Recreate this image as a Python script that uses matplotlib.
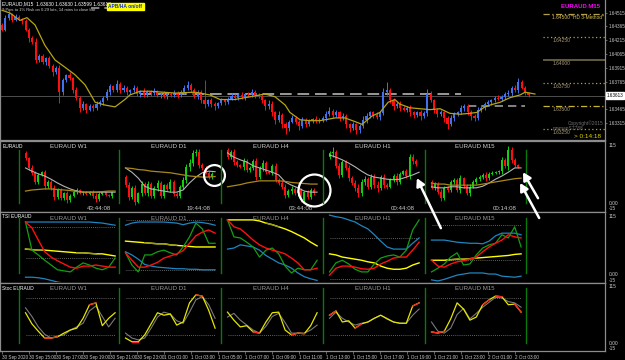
import numpy as np
import matplotlib.pyplot as plt

plt.rcParams['font.family'] = ['Liberation Sans Narrow', 'Liberation Sans', 'DejaVu Sans']

# ---------------- main window: EURAUD M15 (pips above BASE) ----------------
BASE = 1.63000
first_open = 138
close_pips = [133, 146, 150, 143, 147, 145, 142, 133, 124, 120,
              100, 104, 98, 102, 93, 87, 91, 65, 78, 84,
              80, 67, 59, 48, 52, 46, 50, 48, 52, 54,
              59, 65, 72, 67, 74, 67, 70, 65, 67, 70,
              63, 66, 62, 65, 64, 66, 62, 63, 61, 63,
              62, 64, 62, 65, 70, 73, 67, 61, 65, 56,
              52, 56, 52, 50, 53, 56, 54, 58, 61, 59,
              62, 60, 63, 62, 65, 62, 61, 56, 50, 52,
              43, 35, 40, 30, 26, 33, 37, 33, 28, 35,
              30, 34, 36, 34, 35, 37, 41, 45, 40, 43,
              37, 39, 30, 26, 30, 24, 28, 35, 39, 43,
              40, 38, 42, 65, 67, 56, 50, 52, 48, 46,
              48, 43, 40, 43, 39, 42, 63, 56, 46, 41,
              43, 37, 30, 37, 41, 43, 48, 50, 43, 39,
              37, 46, 48, 52, 54, 56, 59, 58, 60, 63,
              64, 70, 67, 76, 70, 64, 62]
upper_wick = [2, 3, 2, 1, 3, 2, 1, 3, 2, 2, 4, 2, 3, 1, 2, 3, 2, 3, 2, 1,
              3, 2, 4, 2, 3, 1, 2, 2, 3, 2, 2, 3, 2, 1, 4, 2, 3, 2, 1, 3,
              2, 1, 3, 2, 2, 3, 1, 2, 3, 2, 2, 3, 2, 2, 3, 4, 2, 3, 2, 2,
              22, 2, 3, 2, 1, 3, 2, 2, 3, 2, 2, 3, 1, 2, 3, 2, 2, 3, 2, 4,
              3, 2, 4, 2, 3, 2, 3, 2, 2, 3, 2, 2, 1, 3, 2, 2, 3, 4, 2, 3,
              2, 3, 2, 2, 3, 2, 2, 4, 3, 2, 2, 3, 2, 4, 9, 2, 3, 2, 3, 2,
              2, 3, 1, 2, 3, 2, 5, 3, 2, 2, 3, 2, 2, 3, 2, 2, 3, 2, 2, 3,
              2, 3, 2, 2, 3, 2, 2, 3, 2, 2, 3, 2, 3, 4, 2, 2, 1]
lower_wick = [2, 2, 3, 2, 1, 2, 3, 2, 4, 3, 3, 2, 2, 3, 2, 4, 2, 12, 3, 2,
              2, 3, 3, 5, 2, 4, 2, 3, 2, 2, 3, 2, 3, 2, 2, 3, 2, 3, 2, 2,
              2, 3, 2, 2, 3, 2, 2, 3, 2, 3, 2, 2, 3, 2, 2, 3, 2, 2, 3, 3,
              4, 2, 3, 4, 2, 2, 3, 2, 2, 3, 2, 2, 3, 2, 2, 3, 2, 3, 4, 3,
              4, 5, 2, 4, 6, 3, 2, 3, 4, 2, 3, 2, 2, 3, 2, 2, 3, 2, 3, 2,
              3, 2, 4, 4, 2, 5, 3, 2, 3, 2, 3, 2, 3, 2, 3, 3, 4, 2, 3, 2,
              3, 4, 3, 2, 4, 2, 3, 2, 4, 3, 2, 4, 5, 2, 3, 2, 2, 3, 3, 4,
              3, 2, 3, 2, 2, 3, 2, 2, 3, 2, 2, 3, 2, 3, 2, 2, 2]
ma_bar = [0, 2.4, 5.3, 7.4, 9.8, 12.7, 15.7, 18.7, 21.6, 24.6, 27.6, 30.5, 33.5, 36.4,
          37.9, 40.9, 43.9, 51.3, 57.2, 61.6, 64.6, 69.0, 73.5, 77.9, 80.9, 83.9, 85.3,
          88.3, 91.3, 94.2, 98.7, 101.6, 104.6, 106.7, 109.6, 112.0, 114.4, 116.4, 117.9,
          120.9, 123.9, 126.8, 129.8, 132.7, 135.7, 138.7, 140.7, 143.1, 144.6, 147.6,
          150.5, 153.5, 155.0, 156.4, 157.9]
ma_pips = [154, 151, 143, 146, 138, 116, 100, 92, 84, 73, 54, 51, 49, 57,
           62, 66, 66, 64, 65, 62, 57, 57, 60, 63, 60, 51, 43,
           35, 34, 34, 37, 37, 33, 30, 39, 43, 54, 57, 52,
           48, 47, 46, 47, 42, 41, 42, 43, 49, 51, 54,
           59, 62, 65, 64, 63]

last_price = 1.63613
session_line = (1.63627, 41, 136)
short_line = (1.63500, 138, 155)
top_line = (1.64565, 26.5, 31)
levels = [1.64500, 1.64250, 1.64000, 1.63750, 1.63500, 1.63250]
level_text = ['1.64500 "HD 3-Method"', '1.64250', '1.64000', '1.63750', '1.63500', '1.63250']
level_style = [(0, (5, 2, 1, 2)), (0, (1, 2)), '-', (0, (1, 2)), (0, (5, 2, 1, 2)), (0, (1, 2))]
level_color = ['#b4a04a', '#b4a04a', '#7d7352', '#b4a04a', '#c8b430', '#b4a04a']
price_ticks = [1.64515, 1.64365, 1.64215, 1.64065, 1.63915, 1.63765, 1.63465, 1.63315]
time_labels = ['30 Sep 2020', '30 Sep 15:00', '30 Sep 17:00', '30 Sep 19:00', '30 Sep 21:00',
               '30 Sep 23:00', '1 Oct 01:00', '1 Oct 03:00', '1 Oct 05:00', '1 Oct 07:00',
               '1 Oct 09:00', '1 Oct 11:00', '1 Oct 13:00', '1 Oct 15:00', '1 Oct 17:00',
               '1 Oct 19:00', '1 Oct 21:00', '1 Oct 23:00', '2 Oct 01:00', '2 Oct 03:00']

# ---------------- multi-timeframe panels (values on the -15..115 window scale) ----------------
panel_names = ['EURAUD W1', 'EURAUD D1', 'EURAUD H4', 'EURAUD H1', 'EURAUD M15']
timers = ['43:44:08', '19:44:08', '03:44:08', '00:44:08', '00:14:08']
mini_open0 = [93, 48, 98, 85, 39]
mini_close = [
    [83, 65, 56, 39, 52, 57, 31, 39, 28, 11, 24, 9, 18, 5, 13, 20, 24, 18, 20, 17, 20, 13, 7, 17, 20, 15, 13, 20],
    [33, 11, 28, 2, 18, 35, 18, 35, 13, 28, 37, 13, 33, 26, 39, 17, 13, 30, 43, 67, 74, 93, 95, 70, 65, 56, 48, 54],
    [85, 95, 76, 70, 67, 78, 61, 65, 78, 48, 65, 74, 57, 56, 69, 43, 37, 30, 15, 22, 26, 18, 24, 5, 20, 11, 24, 18],
    [93, 95, 69, 52, 76, 65, 46, 37, 28, 18, 39, 44, 30, 48, 33, 28, 48, 33, 30, 43, 50, 39, 54, 59, 50, 85, 78, 72],
    [28, 35, 20, 9, 28, 24, 39, 43, 24, 46, 31, 18, 30, 39, 44, 48, 52, 46, 54, 56, 57, 59, 80, 69, 98, 80, 70, 67]]
mini_wick = [
    [4, 3, 5, 3, 4, 2, 5, 3, 4, 6, 3, 4, 3, 5, 3, 2, 3, 2, 3, 2, 3, 4, 5, 3, 2, 3, 2, 3],
    [3, 6, 4, 5, 3, 6, 4, 5, 3, 4, 5, 4, 3, 4, 5, 4, 3, 4, 5, 6, 8, 6, 5, 6, 4, 3, 4, 3],
    [4, 3, 5, 4, 3, 5, 4, 3, 4, 6, 3, 5, 4, 3, 4, 5, 4, 5, 6, 4, 5, 3, 5, 4, 3, 4, 3, 4],
    [3, 8, 4, 5, 3, 4, 5, 4, 6, 7, 5, 6, 4, 5, 6, 8, 4, 5, 4, 3, 4, 5, 4, 3, 4, 5, 6, 3],
    [3, 4, 3, 5, 4, 3, 4, 3, 4, 5, 3, 4, 5, 3, 4, 3, 3, 5, 3, 3, 3, 3, 6, 4, 8, 5, 4, 3]]
ma_fast = [
    [65, 59, 54, 50, 44, 37, 31, 26, 22, 20, 20, 20, 20, 20, 20],
    [65, 57, 46, 31, 26, 24, 22, 20, 20, 24, 37, 48, 56, 59, 58],
    [93, 85, 80, 76, 69, 65, 61, 57, 52, 39, 33, 28, 22, 20, 20],
    [89, 85, 80, 74, 67, 59, 52, 48, 46, 44, 43, 44, 48, 52, 57],
    [30, 28, 28, 30, 30, 28, 28, 28, 31, 37, 44, 50, 57, 65, 65]]
ma_slow = [
    [22, 24, 25, 26, 26, 25, 24, 23, 21, 20, 20, 20, 21, 22, 22],
    [65, 64, 62, 61, 59, 58, 57, 56, 54, 52, 50, 49, 48, 48, 49],
    [30, 32, 34, 37, 39, 41, 41, 41, 41, 40, 38, 37, 36, 35, 35],
    [],
    [37, 35, 35, 33, 33, 33, 33, 33, 35, 37, 39, 41, 43, 45, 46]]

tsi_blue_hi = [
    [98, 98, 98, 98, 98, 98, 98, 98, 98, 98, 98, 97, 96, 94, 92],
    [92, 96, 98, 98, 98, 98, 98, 97, 96, 93, 96, 98, 97, 95, 92],
    [47, 49, 55, 53, 51, 45, 35, 28, 21, 17, 11, 2, -5, -9, -12],
    [111, 108, 106, 102, 98, 91, 85, 74, 62, 51, 47, 47, 47, 58, 68],
    [64, 64, 64, 62, 60, 59, 58, 58, 57, 62, 72, 77, 77, 77, 74]]
tsi_blue_lo = [
    [-6, -6, -7, -9, -12, -15, -17, -19, -20, -21, -22, -23, -24, -25, -26],
    [42, 36, 28, 18, 15, 13, 12, 11, 10, 10, 9, 9, 8, 8, 8],
    [],
    [],
    [-11, -13, -10, -6, -2, 0, 2, 2, 2, 0, 0, -4, -5, -6, -4]]
tsi_red = [
    [98, 87, 64, 42, 32, 25, 19, 13, 11, 15, 15, 17, 15, 13, 13],
    [40, 26, 13, 13, 17, 22, 30, 34, 38, 44, 58, 72, 79, 83, 77],
    [102, 89, 85, 75, 64, 55, 49, 45, 42, 38, 30, 21, 8, 8, 11],
    [-2, 11, 15, 15, 13, 10, 9, 11, 19, 24, 30, 32, 32, 45, 60],
    [26, 15, 13, 19, 23, 25, 28, 32, 42, 51, 58, 64, 74, 70, 68]]
tsi_green = [
    [98, 45, 36, 26, 17, 8, 6, 4, 13, 21, 17, 11, 8, 13, 30],
    [40, 17, 4, 36, 36, 42, 45, 40, 36, 51, 70, 96, 85, 58, 58],
    [102, 70, 68, 60, 51, 32, 45, 49, 38, 15, 2, 11, 8, 8, 26],
    [4, 21, 26, 19, 9, 4, 4, 19, 30, 34, 36, 32, 45, 83, 102],
    [4, 11, 19, 32, 40, 17, 19, 36, 49, 55, 58, 74, 68, 89, 51]]
tsi_yellow = [
    [47, 46, 45, 45, 44, 43, 42, 41, 40, 40, 39, 38, 38, 36, 34],
    [62, 61, 60, 59, 58, 57, 57, 55, 54, 53, 52, 51, 51, 51, 51],
    [102, 102, 102, 102, 102, 100, 96, 93, 89, 85, 80, 74, 68, 60, 53],
    [38, 36, 32, 30, 28, 26, 23, 21, 15, 11, 9, 9, 11, 17, 21],
    [26, 26, 26, 27, 28, 28, 29, 30, 31, 32, 33, 34, 35, 37, 38]]
tsi_dim_spans = [[(0, 3), (8, 11)], [(3, 8)], [(6, 8)], [], [(3, 7)]]
tsi_levels = [[89, 30], [102, 8], [], [68, -9], [92, 26]]

stoch_main = [
    [56, 38, 26, 15, 15, 17, 23, 28, 31, 47, 69, 72, 35, 47, 56],
    [15, 9, 9, 20, 38, 56, 52, 54, 36, 41, 72, 85, 83, 60, 31],
    [57, 44, 33, 35, 25, 23, 41, 56, 57, 28, 20, 23, 22, 35, 56],
    [52, 59, 41, 43, 31, 38, 41, 47, 52, 46, 41, 39, 39, 67, 72],
    [25, 23, 26, 46, 72, 62, 44, 49, 69, 77, 83, 82, 69, 70, 57]]
stoch_signal = [
    [64, 50, 33, 21, 15, 18, 20, 28, 33, 39, 59, 67, 50, 33, 47],
    [23, 15, 12, 15, 31, 49, 57, 54, 43, 39, 57, 77, 82, 69, 47],
    [49, 55, 44, 36, 28, 23, 34, 50, 55, 40, 23, 23, 23, 28, 36],
    [47, 57, 47, 41, 36, 39, 41, 47, 52, 47, 41, 39, 39, 52, 62],
    [41, 26, 23, 31, 53, 63, 46, 55, 65, 73, 81, 80, 74, 72, 65]]
stoch_red_spans = [[(3, 5), (10, 11)], [(1, 2), (11, 12)], [(4, 5), (10, 12)],
                   [(0, 1), (4, 5), (13, 14)], [(0, 2), (8, 9), (10, 11), (13, 14)]]
stoch_levels = [80, 20]

# ---------------- layout helpers ----------------
W, H = 625, 360
fig = plt.figure(figsize=(W / 100, H / 100), dpi=100)
fig.patch.set_facecolor('black')


def box(x0, y0, x1, y1):
    return [x0 / W, 1 - y1 / H, (x1 - x0) / W, (y1 - y0) / H]


XLIM = (-2 / 3.375, 603 / 3.375)
SPINE = '#8c8c8c'
TXT = '#c8c8c8'
FS = 4.4
FS_SMALL = 3.5


def style_window(a):
    a.set_facecolor('black')
    for s in a.spines.values():
        s.set_color(SPINE)
        s.set_linewidth(0.9)
    a.set_xlim(*XLIM)


def candles(a, o, c, hi, lo, up, dn, width, lw):
    o, c, hi, lo = map(np.asarray, (o, c, hi, lo))
    x = np.arange(len(c))
    col = np.where(c >= o, up, dn)
    a.vlines(x, lo, hi, colors=col, lw=lw, zorder=2)
    bottom = np.minimum(o, c)
    height = np.maximum(np.abs(c - o), (hi.max() - lo.min()) * 0.006)
    a.bar(x, height, width, bottom, color=col, lw=0, zorder=3)


# ---------------- main window ----------------
ax = fig.add_axes(box(0, 0, 605, 140))
style_window(ax)
ax.spines['top'].set_visible(False)
ax.set_ylim(1.63130, 1.64652)
opens = np.array([first_open] + close_pips[:-1], float)
closes = np.array(close_pips, float)
highs = np.maximum(opens, closes) + np.array(upper_wick)
lows = np.minimum(opens, closes) - np.array(lower_wick)
candles(ax, BASE + opens / 1e4, BASE + closes / 1e4, BASE + highs / 1e4, BASE + lows / 1e4,
        '#3f72f0', '#ff1010', 0.6, 0.7)
ax.plot(ma_bar, BASE + np.array(ma_pips) / 1e4, color='#b5a512', lw=0.9, zorder=4)

ax.axhline(last_price, color='#5a5a5a', lw=0.6, zorder=1)
p, a0, a1 = session_line
ax.hlines(p, a0, a1, color='#9a9a9a', lw=1.4, linestyles=(0, (6, 3)), zorder=1)
p, a0, a1 = short_line
ax.hlines(p, a0, a1, color='#9a9a9a', lw=1.2, linestyles=(0, (5, 3)), zorder=1)
p, a0, a1 = top_line
ax.hlines(p, a0, a1, color='#9a9a9a', lw=1.2, linestyles=(0, (5, 3)), zorder=1)

for lv, t, ls, lc in zip(levels, level_text, level_style, level_color):
    ax.hlines(lv, 160.3, XLIM[1], colors=lc, linestyles=ls, lw=1.1 if ls == '-' else 0.9)
    ax.text(163, lv - 0.00007, t, color='#d8c050' if 'HD' in t else '#a89c78',
            fontsize=FS_SMALL, va='top', ha='left')

ax.yaxis.tick_right()
ax.set_yticks(price_ticks)
ax.set_yticklabels(['%.5f' % v for v in price_ticks])
ax.tick_params(axis='y', colors=SPINE, labelcolor=TXT, labelsize=3.3, length=1.5, width=0.5, pad=0.8)
ax.set_xticks([])
ax.text(1.002, last_price, '%.5f' % last_price, transform=ax.get_yaxis_transform(),
        fontsize=3.3, color='black', va='center', ha='left',
        bbox=dict(facecolor='white', edgecolor='white', pad=0.5))

ax.text(0.004, 1 - 4 / 140, 'EURAUD,M15  1.63630 1.63630 1.63599 1.63613', transform=ax.transAxes,
        color='white', fontsize=FS_SMALL, va='center', ha='left')
ax.text(0.004, 1 - 9.5 / 140, '9 Pips to 1% Risk on 0.29 lots, 14 mins to close bar', transform=ax.transAxes,
        color='#d0d0d0', fontsize=3.0, va='center', ha='left')
ax.text(108.5 / 605, 1 - 6.5 / 140, 'APB/HA on/off', transform=ax.transAxes, color='#1030d0',
        fontsize=FS_SMALL, fontweight='bold', va='center', ha='left',
        bbox=dict(facecolor='#ffff00', edgecolor='#ffff00', pad=0.8))
ax.text(600 / 605, 1 - 6.5 / 140, 'EURAUD M15', transform=ax.transAxes, color='#ff00ff',
        fontsize=4.3, fontweight='bold', va='center', ha='right')
ax.text(603 / 605, 1 - 123 / 140, 'Copyright©2015', transform=ax.transAxes, color='#6e6e6e',
        fontsize=FS_SMALL, va='center', ha='right')
ax.text(553 / 605, 1 - 128.5 / 140, 'mamanS7788', transform=ax.transAxes, color='#6e6e6e',
        fontsize=FS_SMALL, va='center', ha='left')
ax.text(601 / 605, 1 - 136.5 / 140, '> 0:14:18', transform=ax.transAxes, color='#e0d800',
        fontsize=4.6, va='center', ha='right')

# ---------------- sub windows ----------------
green_x = [19, 119, 221, 323, 425]
sub_rows = [(141, 212, 'EURAUD'), (212, 283, 'TSI EURAUD'), (283, 351, 'Stoc EURAUD')]
wins = []
for y0, y1, name in sub_rows:
    w = fig.add_axes(box(0, y0, 605, y1))
    style_window(w)
    w.set_ylim(-15, 115)
    w.set_yticks([])
    w.set_xticks([])
    hpx = y1 - y0
    w.text(0.004, 1 - 5 / hpx, name, transform=w.transAxes, color='white', fontsize=FS_SMALL,
           va='center', ha='left')
    tr = w.get_yaxis_transform()
    w.text(1.006, 1 - 1.5 / hpx, '115', transform=w.transAxes, color=TXT, fontsize=FS_SMALL, va='top')
    w.text(1.006, 0, '0.00', transform=tr, color=TXT, fontsize=FS_SMALL, va='center')
    w.text(1.006, 0.5 / hpx, '-15', transform=w.transAxes, color=TXT, fontsize=FS_SMALL, va='bottom')
    wins.append(w)

# time axis under the last window
wb = wins[-1]
wb.set_xticks(range(0, 8 * len(time_labels), 8))
wb.set_xticklabels(time_labels)
for lab in wb.get_xticklabels():
    lab.set_ha('left')
wb.tick_params(axis='x', colors=SPINE, labelcolor=TXT, labelsize=3.3, length=2, width=0.5, pad=1)

line_x = np.arange(0, 29, 2)


def mini(k, y0, y1, ylim, title_color):
    g = green_x[k]
    a = fig.add_axes(box(g, y0, g + 101, y1))
    a.set_xlim(-6.5 / 3.2, 94.5 / 3.2)
    a.set_ylim(*ylim)
    a.axis('off')
    a.patch.set_alpha(0)
    hpx = y1 - y0
    a.text(49.5 / 101, 1 - 5 / hpx, panel_names[k], transform=a.transAxes, color=title_color,
           fontsize=FS, va='center', ha='center')
    return a


def separators(a, k, lo, hi):
    a.axvline(a.get_xlim()[0], lo, hi, color='#0a7a0a', lw=1.0, clip_on=False)
    if k == 4:
        a.axvline(a.get_xlim()[1], lo, hi, color='#0a7a0a', lw=1.0, clip_on=False)


mini_axes = []
for k in range(5):
    # candles window
    a = mini(k, 141, 211, (-15, 115), '#d0d0d0')
    separators(a, k, 0.115, 0.87)
    c = np.array(mini_close[k], float)
    o = np.concatenate([[mini_open0[k]], c[:-1]])
    wk = np.array(mini_wick[k], float)
    candles(a, o, c, np.maximum(o, c) + wk, np.minimum(o, c) - wk, '#10d010', '#ff1010', 0.6, 0.7)
    a.plot(line_x, ma_fast[k], color='#b4b4b4', lw=0.8, zorder=4)
    if ma_slow[k]:
        a.plot(line_x, ma_slow[k], color='#a8881a', lw=0.9, zorder=4)
    a.text(92 / 101, 3 / 70, timers[k], transform=a.transAxes, color=TXT, fontsize=FS,
           va='center', ha='right')
    mini_axes.append(a)

    # TSI window
    t = mini(k, 213, 282, (-15, 115), '#9a9a9a')
    separators(t, k, 0.13, 0.93)
    for lv in tsi_levels[k]:
        t.hlines(lv, 0, 28, color='#808080', lw=0.6, linestyles=(0, (1, 1.5)))
    t.plot(line_x, tsi_blue_hi[k], color='#1e86c0', lw=0.9)
    if tsi_blue_lo[k]:
        t.plot(line_x, tsi_blue_lo[k], color='#1e86c0', lw=0.9)
    t.plot(line_x, tsi_yellow[k], color='#ffff00', lw=1.0)
    for s0, s1 in tsi_dim_spans[k]:
        t.plot(line_x[s0:s1 + 1], tsi_yellow[k][s0:s1 + 1], color='#9a9a20', lw=1.0)
    t.plot(line_x, tsi_green[k], color='#12a012', lw=0.9)
    t.plot(line_x, tsi_red[k], color='#ff1010', lw=1.0)

    # Stochastic window
    s = mini(k, 284, 350, (-4.4, 102.6), '#9a9a9a')
    separators(s, k, 0.106, 0.94)
    for lv in stoch_levels:
        s.hlines(lv, 0, 28, color='#808080', lw=0.6, linestyles=(0, (1, 1.5)))
    s.plot(line_x, stoch_signal[k], color='#7a7a7a', lw=0.8)
    s.plot(line_x, stoch_main[k], color='#e6e600', lw=0.9)
    for s0, s1 in stoch_red_spans[k]:
        s.plot(line_x[s0:s1 + 1], stoch_main[k][s0:s1 + 1], color='#ff2020', lw=0.9)

# ---------------- annotations (circles and arrows) ----------------
mini_axes[1].plot(27.8, 52, 'o', ms=15, mfc='none', mec='white', mew=1.6, clip_on=False, zorder=6)
mini_axes[2].plot(27.0, 24, 'o', ms=23, mfc='none', mec='white', mew=1.6, clip_on=False, zorder=6)

over = fig.add_axes([0, 0, 1, 1], zorder=10)
over.axis('off')
over.patch.set_alpha(0)
arrows = [(3, 27.3, 46, 17.3, -36.0), (4, 27.7, 37, 13.7, -25.2), (4, 28.6, 57, 10.8, -18.7)]
for k, bx, by, dx, dy in arrows:
    over.annotate('', xy=(bx, by), xycoords=mini_axes[k].transData,
                  xytext=(dx, dy), textcoords='offset points', annotation_clip=False,
                  arrowprops=dict(arrowstyle='-|>,head_length=0.45,head_width=0.25',
                                  color='white', lw=1.8, shrinkA=0, shrinkB=0))

fig.savefig('out.png', dpi=100, facecolor='black')
